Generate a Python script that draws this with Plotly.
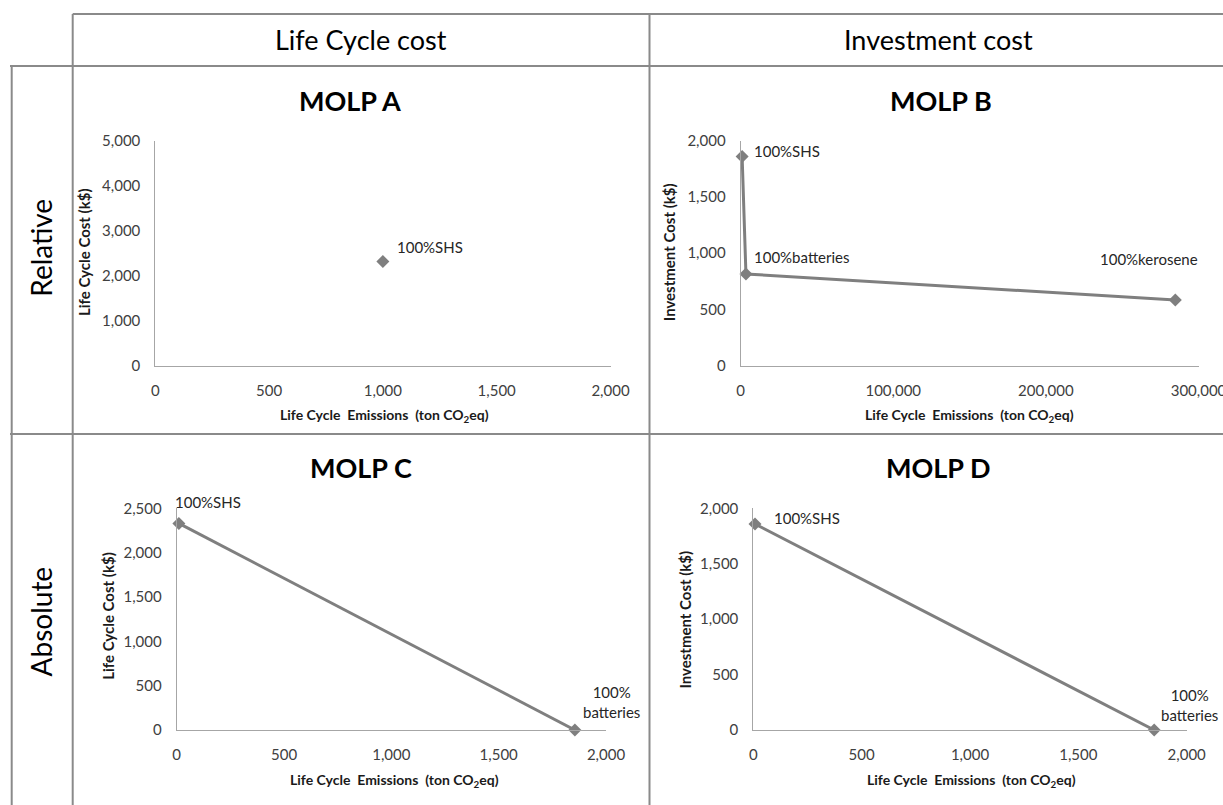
import plotly.graph_objects as go

# ---------------- data ----------------
a_emis = [1000]
a_cost = [2315]
a_labels = ["100%SHS"]

b_emis = [1000, 3500, 284800]
b_inv = [1860, 815, 584]
b_labels = ["100%SHS", "100%batteries", "100%kerosene"]

c_emis = [10, 1855]
c_cost = [2330, 0]
c_labels = ["100%SHS", "100%<br>batteries"]

d_emis = [8, 1850]
d_inv = [1858, 0]
d_labels = ["100%SHS", "100%<br>batteries"]

col_headers = ["Life Cycle cost", "Investment cost"]
row_headers = ["Relative", "Absolute"]
panel_titles = ["MOLP A", "MOLP B", "MOLP C", "MOLP D"]
x_title = "Life Cycle  Emissions  (ton CO<sub>2</sub>eq)"
y_titles = ["Life Cycle Cost (k$)", "Investment Cost (k$)", "Life Cycle Cost (k$)", "Investment Cost (k$)"]

# ---------------- layout helpers ----------------
W, H = 1223, 805
def px(x):
    return x / W
def py(y):
    return 1 - y / H

FONT = "Lato, 'Open Sans', sans-serif"
GRAY = "#7f7f7f"
AXIS_GRAY = "#a6a6a6"
TABLE_GRAY = "#8a8a8a"

fig = go.Figure()

panels = [
    dict(key="", x=a_emis, y=a_cost, labels=a_labels, mode="markers",
         xd=(155.3, 610.5), yd=(140.7, 365.7), xr=[0, 2000], xdt=500, yr=[0, 5000], ydt=1000),
    dict(key="2", x=b_emis, y=b_inv, labels=b_labels, mode="lines+markers",
         xd=(740.6, 1198.5), yd=(140.7, 365.7), xr=[0, 300000], xdt=100000, yr=[0, 2000], ydt=500),
    dict(key="3", x=c_emis, y=c_cost, labels=c_labels, mode="lines+markers",
         xd=(176.7, 606.0), yd=(508.3, 730.0), xr=[0, 2000], xdt=500, yr=[0, 2500], ydt=500),
    dict(key="4", x=d_emis, y=d_inv, labels=d_labels, mode="lines+markers",
         xd=(753.3, 1186.7), yd=(508.3, 730.0), xr=[0, 2000], xdt=500, yr=[0, 2000], ydt=500),
]

# label offsets (xshift, yshift, xanchor) per panel point
label_offsets = [
    [(12, 15, "left")],
    [(10, 5, "left"), (6, 17, "left"), (-26, 41, "center")],
    [(-6, 21, "left"), (37, 28, "center")],
    [(17, 6, "left"), (35, 25, "center")],
]

annotations = []
for i, p in enumerate(panels):
    k = p["key"]
    fig.add_trace(go.Scatter(
        x=p["x"], y=p["y"], mode=p["mode"],
        xaxis="x" + k, yaxis="y" + k,
        line=dict(color=GRAY, width=3),
        marker=dict(symbol="diamond", size=10, color=GRAY),
        cliponaxis=False, showlegend=False, hoverinfo="x+y",
    ))
    axis_common = dict(showgrid=False, zeroline=False, showline=True, linecolor=AXIS_GRAY,
                       linewidth=1, ticks="", tickformat=",", ticklabelstandoff=11,
                       automargin=False, ticklabeloverflow="allow",
                       tickfont=dict(family=FONT, size=15, color="#404040"), fixedrange=True)
    fig.update_layout(**{
        "xaxis" + k: dict(domain=[px(p["xd"][0]), px(p["xd"][1])], range=p["xr"], dtick=p["xdt"],
                          anchor="y" + k, **axis_common),
        "yaxis" + k: dict(domain=[py(p["yd"][1]), py(p["yd"][0])], range=p["yr"], dtick=p["ydt"],
                          anchor="x" + k, **axis_common),
    })
    for j, lab in enumerate(p["labels"]):
        xs, ys, xa = label_offsets[i][j]
        annotations.append(dict(
            x=p["x"][j], y=p["y"][j], xref="x" + k, yref="y" + k, text=lab,
            showarrow=False, xanchor=xa, yanchor="middle", xshift=xs, yshift=ys,
            font=dict(family=FONT, size=15, color="#262626"),
        ))

# panel titles
title_pos = [(350, 100), (941, 100), (361, 467), (938, 467)]
for t, (x, y) in zip(panel_titles, title_pos):
    annotations.append(dict(x=px(x), y=py(y), xref="paper", yref="paper", text="<b>%s</b>" % t,
                            showarrow=False, xanchor="center", yanchor="middle",
                            font=dict(family=FONT, size=27, color="#000000")))

# axis titles
xt_pos = [(384, 415), (969.5, 415), (394.3, 780), (971.3, 780)]
yt_pos = [(84, 252), (669.7, 252.5), (107.3, 615.5), (684.6, 620)]
for (x, y) in xt_pos:
    annotations.append(dict(x=px(x), y=py(y), xref="paper", yref="paper", text="<b>%s</b>" % x_title,
                            showarrow=False, xanchor="center", yanchor="middle",
                            font=dict(family=FONT, size=14, color="#1a1a1a")))
for t, (x, y) in zip(y_titles, yt_pos):
    annotations.append(dict(x=px(x), y=py(y), xref="paper", yref="paper", text="<b>%s</b>" % t,
                            showarrow=False, xanchor="center", yanchor="middle", textangle=-90,
                            font=dict(family=FONT, size=15, color="#1a1a1a")))

# table headers
for t, (x, y) in zip(col_headers, [(361, 40), (938, 40)]):
    annotations.append(dict(x=px(x), y=py(y), xref="paper", yref="paper", text=t,
                            showarrow=False, xanchor="center", yanchor="middle",
                            font=dict(family=FONT, size=27, color="#000000")))
for t, (x, y) in zip(row_headers, [(40.7, 248), (40.7, 621.7)]):
    annotations.append(dict(x=px(x), y=py(y), xref="paper", yref="paper", text=t,
                            showarrow=False, xanchor="center", yanchor="middle", textangle=-90,
                            font=dict(family=FONT, size=28, color="#000000")))

# table grid lines
grid = [
    (72.7, 14, W, 14),
    (10, 66, W, 66),
    (10, 434, W, 434),
    (72.7, 14, 72.7, H),
    (11.7, 66, 11.7, H),
    (649.5, 14, 649.5, H),
]
shapes = [dict(type="line", xref="paper", yref="paper", x0=px(x0), y0=py(y0), x1=px(x1), y1=py(y1),
               line=dict(color=TABLE_GRAY, width=2)) for (x0, y0, x1, y1) in grid]

fig.update_layout(width=W, height=H, margin=dict(l=0, r=0, t=0, b=0, autoexpand=False),
                  paper_bgcolor="white", plot_bgcolor="white",
                  annotations=annotations, shapes=shapes, showlegend=False)

fig.write_html(
    "out.html",
    config={"displayModeBar": False},
    post_script="document.body.style.margin='0';document.body.style.overflow='hidden';",
)
